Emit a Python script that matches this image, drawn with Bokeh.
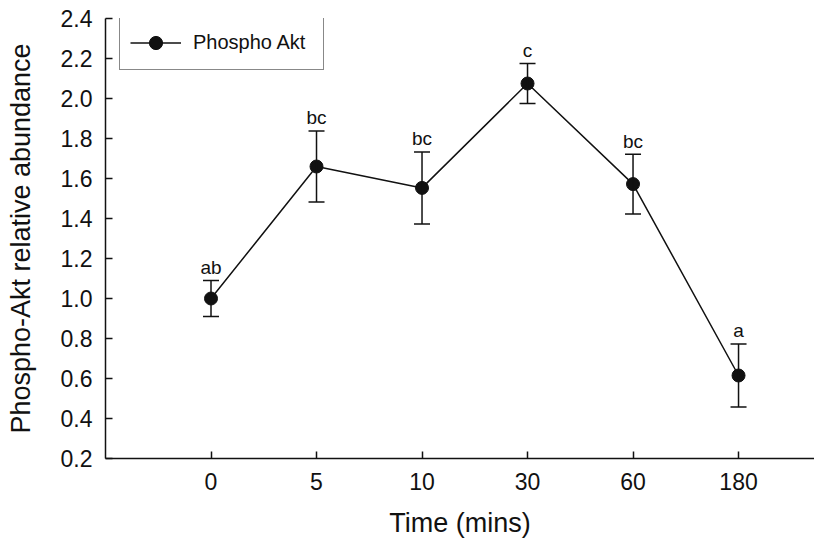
from bokeh.plotting import figure
from bokeh.models import (Range1d, FixedTicker, ColumnDataSource, Whisker, TeeHead,
                          Legend, LegendItem, NumeralTickFormatter)
from bokeh.embed import file_html
from bokeh.resources import INLINE
from bokeh.core.properties import value

# ---- data ----
times = ["0", "5", "10", "30", "60", "180"]
means = [1.00, 1.66, 1.553, 2.075, 1.572, 0.615]
errors = [0.09, 0.178, 0.18, 0.10, 0.149, 0.158]
letters = ["ab", "bc", "bc", "c", "bc", "a"]
y_ticks = [0.2, 0.4, 0.6, 0.8, 1.0, 1.2, 1.4, 1.6, 1.8, 2.0, 2.2, 2.4]

FONT = "Liberation Sans"
INK = "#111111"

pos = list(range(len(times)))
src = ColumnDataSource(dict(
    x=pos, y=means,
    upper=[m + e for m, e in zip(means, errors)],
    lower=[m - e for m, e in zip(means, errors)],
    lab=letters,
))

p = figure(width=814, height=540, output_backend="svg", toolbar_location=None,
           x_range=Range1d(-1, 5.72), y_range=Range1d(0.2, 2.4),
           min_border_left=105, min_border_right=0, min_border_top=18,
           min_border_bottom=81)
p.outline_line_color = None
p.xgrid.visible = False
p.ygrid.visible = False
p.background_fill_color = "white"
p.border_fill_color = "white"

# axes
for ax in (p.xaxis[0], p.yaxis[0]):
    ax.axis_line_color = INK
    ax.axis_line_width = 1.5
    ax.major_tick_line_color = INK
    ax.major_tick_line_width = 1.5
    ax.major_tick_in = 7
    ax.major_tick_out = 0
    ax.minor_tick_line_color = None
    ax.major_label_text_font = FONT
    ax.major_label_text_font_size = "23px"
    ax.major_label_text_color = INK
    ax.axis_label_text_font = FONT
    ax.axis_label_text_font_size = "27px"
    ax.axis_label_text_font_style = "normal"
    ax.axis_label_text_color = INK

p.xaxis.ticker = FixedTicker(ticks=pos)
p.xaxis.major_label_overrides = {i: t for i, t in zip(pos, times)}
p.xaxis.major_label_standoff = 14
p.xaxis.axis_label = "Time (mins)"
p.xaxis.axis_label_standoff = 15

p.yaxis.ticker = FixedTicker(ticks=y_ticks)
p.yaxis.formatter = NumeralTickFormatter(format="0.0")
p.yaxis.major_label_standoff = 13
p.yaxis.axis_label = "Phospho-Akt relative abundance"
p.yaxis.axis_label_standoff = 22

# error bars
wh = Whisker(source=src, base="x", upper="upper", lower="lower",
             line_color=INK, line_width=1.5, level="glyph",
             upper_head=TeeHead(size=16, line_color=INK, line_width=1.5),
             lower_head=TeeHead(size=16, line_color=INK, line_width=1.5))
p.add_layout(wh)

line_r = p.line("x", "y", source=src, line_color=INK, line_width=1.5)
dot_r = p.scatter("x", "y", source=src, size=13, fill_color=INK, line_color=INK)

# significance letters above the error bars
p.text("x", "upper", text="lab", source=src, text_align="center",
       text_baseline="alphabetic", y_offset=-13,
       text_font=value(FONT), text_font_size="19px", text_color=INK)

legend = Legend(items=[LegendItem(label="Phospho Akt", renderers=[line_r, dot_r])],
                location=(14, 441 - 53),
                glyph_width=51, glyph_height=33, label_standoff=12,
                label_width=120, padding=10, spacing=0, margin=0,
                label_text_font=FONT, label_text_font_size="20px",
                label_text_color=INK,
                border_line_color=INK, border_line_width=1.2,
                background_fill_color="white", background_fill_alpha=1)
p.add_layout(legend)

open("out.html", "w").write(file_html(p, INLINE))
